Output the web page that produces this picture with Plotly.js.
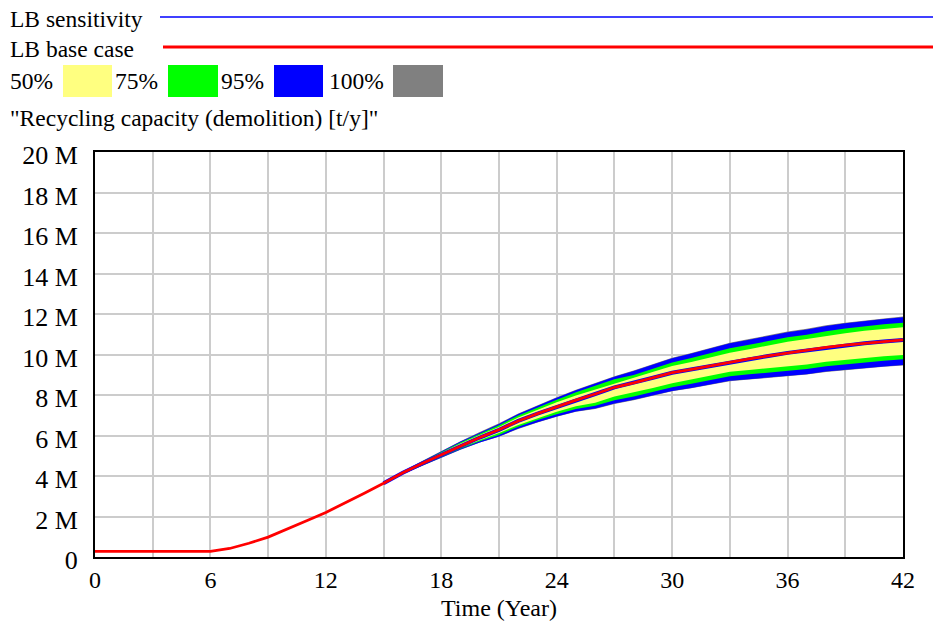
<!DOCTYPE html>
<html>
<head>
<meta charset="utf-8">
<script src="https://cdn.plot.ly/plotly-3.0.1.min.js"></script>
<style>html,body{margin:0;padding:0;background:#fff;}#chart{width:935px;height:625px;}</style>
</head>
<body>
<div id="chart"></div>
<script>
// ---- Data (values in millions of t/y) ----
const yearsBase = [0,1,2,3,4,5,6,7,8,9,10,11,12,13,14,15,16,17,18,19,20,21,22,23,24,25,26,27,28,29,30,31,32,33,34,35,36,37,38,39,40,41,42];
const baseCase = [0.28,0.28,0.28,0.28,0.28,0.28,0.28,0.42,0.68,0.98,1.37,1.79,2.2,2.66,3.15,3.64,4.16,4.62,5.06,5.5,5.9,6.28,6.72,7.08,7.42,7.75,8.05,8.38,8.6,8.85,9.1,9.27,9.45,9.63,9.78,9.93,10.08,10.2,10.35,10.46,10.56,10.64,10.72];

const yearsSens = [15,16,17,18,19,20,21,22,23,24,25,26,27,28,29,30,31,32,33,34,35,36,37,38,39,40,41,42];
const sensitivity = [3.64,4.16,4.62,5.06,5.5,5.9,6.28,6.72,7.08,7.42,7.75,8.05,8.38,8.6,8.85,9.1,9.27,9.45,9.63,9.78,9.93,10.08,10.2,10.35,10.46,10.56,10.64,10.72];

const p100Hi = [3.665,4.23,4.74,5.24,5.72,6.17,6.60,7.09,7.50,7.89,8.26,8.58,8.93,9.21,9.52,9.84,10.08,10.33,10.58,10.76,10.94,11.13,11.27,11.44,11.57,11.69,11.78,11.88];
const p100Lo = [3.615,4.09,4.50,4.91,5.30,5.65,5.94,6.32,6.64,6.92,7.17,7.31,7.56,7.74,7.96,8.18,8.33,8.51,8.68,8.76,8.84,8.92,9.01,9.14,9.23,9.32,9.39,9.46];
const p95Hi = [3.66,4.22,4.72,5.22,5.70,6.14,6.57,7.06,7.47,7.86,8.23,8.55,8.90,9.18,9.49,9.81,10.05,10.30,10.55,10.73,10.91,11.10,11.24,11.41,11.54,11.66,11.75,11.84];
const p95Lo = [3.62,4.10,4.51,4.92,5.31,5.66,5.95,6.34,6.66,6.94,7.19,7.33,7.58,7.76,7.98,8.20,8.35,8.53,8.70,8.78,8.86,8.94,9.03,9.16,9.25,9.34,9.41,9.48];
const p75Hi = [3.655,4.21,4.70,5.19,5.66,6.09,6.51,6.99,7.39,7.77,8.13,8.44,8.78,8.99,9.29,9.60,9.83,10.07,10.31,10.48,10.66,10.85,10.98,11.15,11.28,11.40,11.49,11.57];
const p75Lo = [3.625,4.12,4.53,4.95,5.35,5.71,6.03,6.43,6.76,7.05,7.31,7.47,7.74,7.93,8.16,8.38,8.55,8.74,8.93,9.02,9.10,9.19,9.29,9.42,9.52,9.61,9.69,9.76];
const p50Hi = [3.65,4.20,4.68,5.15,5.61,6.03,6.42,6.89,7.28,7.64,7.98,8.27,8.58,8.84,9.13,9.43,9.63,9.86,10.09,10.26,10.44,10.63,10.76,10.92,11.05,11.17,11.26,11.34];
const p50Lo = [3.63,4.13,4.55,4.98,5.39,5.76,6.12,6.52,6.86,7.17,7.44,7.62,7.92,8.12,8.35,8.58,8.77,8.96,9.15,9.24,9.32,9.40,9.51,9.64,9.74,9.83,9.91,9.98];

const xTickVals = [0,3,6,9,12,15,18,21,24,27,30,33,36,39,42];
const xTickText = ['0','','6','','12','','18','','24','','30','','36','','42'];
const yTickVals = [0,2,4,6,8,10,12,14,16,18,20];
const yTickText = ['0','2 M','4 M','6 M','8 M','10 M','12 M','14 M','16 M','18 M','20 M'];

const legendLines = ['LB sensitivity','LB base case'];
const bandLabels = ['50%','75%','95%','100%'];
const bandColors = ['#ffff80','#00ff00','#0000ff','#808080'];
const chartTitle = '"Recycling capacity (demolition) [t/y]"';

// ---- Traces ----
function band(lo, hi, color) {
  return [
    {x: yearsSens, y: lo, mode: 'lines', line: {width: 0, color: color}, hoverinfo: 'skip', showlegend: false},
    {x: yearsSens, y: hi, mode: 'lines', line: {width: 0, color: color}, fill: 'tonexty', fillcolor: color, hoverinfo: 'skip', showlegend: false}
  ];
}
const traces = [].concat(
  band(p100Lo, p100Hi, bandColors[3]),
  band(p95Lo, p95Hi, bandColors[2]),
  band(p75Lo, p75Hi, bandColors[1]),
  band(p50Lo, p50Hi, bandColors[0]),
  [
    {x: yearsSens, y: sensitivity, mode: 'lines', line: {color: '#0000ff', width: 4}, name: legendLines[0], showlegend: false},
    {x: yearsBase, y: baseCase, mode: 'lines', line: {color: '#ff0000', width: 2.8}, name: legendLines[1], showlegend: false}
  ]
);

// ---- Layout helpers (pixel -> paper) ----
const PL = 95, PW = 808, PB = 557, PH = 405;
const px = v => (v - PL) / PW;
const py = v => (PB - v) / PH;
const FONT = 'Liberation Serif';

const annotations = [
  {text: legendLines[0], x: px(8), y: py(19)},
  {text: legendLines[1], x: px(8), y: py(49)},
  {text: bandLabels[0], x: px(8), y: py(81)},
  {text: bandLabels[1], x: px(113), y: py(81)},
  {text: bandLabels[2], x: px(219), y: py(81)},
  {text: bandLabels[3], x: px(327), y: py(81)},
  {text: chartTitle, x: px(8), y: py(118)}
].map(a => Object.assign({xref: 'paper', yref: 'paper', xanchor: 'left', yanchor: 'middle', showarrow: false,
  font: {family: FONT, size: 23.5, color: '#000'}}, a));

const shapes = [
  {type: 'line', xref: 'paper', yref: 'paper', x0: px(160), x1: px(933), y0: py(17), y1: py(17), line: {color: '#0000ff', width: 1.6}},
  {type: 'line', xref: 'paper', yref: 'paper', x0: px(163), x1: px(933), y0: py(47), y1: py(47), line: {color: '#ff0000', width: 3}},
  {type: 'rect', xref: 'paper', yref: 'paper', x0: px(63), x1: px(112), y0: py(97), y1: py(65), fillcolor: bandColors[0], line: {width: 0}},
  {type: 'rect', xref: 'paper', yref: 'paper', x0: px(168), x1: px(218), y0: py(97), y1: py(65), fillcolor: bandColors[1], line: {width: 0}},
  {type: 'rect', xref: 'paper', yref: 'paper', x0: px(274), x1: px(323), y0: py(97), y1: py(65), fillcolor: bandColors[2], line: {width: 0}},
  {type: 'rect', xref: 'paper', yref: 'paper', x0: px(393), x1: px(443), y0: py(97), y1: py(65), fillcolor: bandColors[3], line: {width: 0}}
];

const layout = {
  width: 935, height: 625,
  margin: {l: PL, r: 935 - PL - PW, t: PB - PH, b: 625 - PB, pad: 0},
  paper_bgcolor: '#fff', plot_bgcolor: '#fff',
  showlegend: false,
  font: {family: FONT, size: 24, color: '#000'},
  xaxis: {
    range: [0, 42], tickmode: 'array', tickvals: xTickVals, ticktext: xTickText,
    showgrid: true, gridcolor: '#cccccc', gridwidth: 2, zeroline: false,
    showline: true, mirror: true, linecolor: '#000', linewidth: 2, ticks: '',
    tickfont: {family: FONT, size: 24, color: '#000'},
    title: {text: 'Time (Year)', font: {family: FONT, size: 24, color: '#000'}, standoff: 7}
  },
  yaxis: {
    range: [0, 20], tickmode: 'array', tickvals: yTickVals, ticktext: yTickText,
    showgrid: true, gridcolor: '#cccccc', gridwidth: 2, zeroline: false,
    showline: true, mirror: true, linecolor: '#000', linewidth: 2, ticks: '',
    ticklabelstandoff: 10, ticklabelshift: 3,
    tickfont: {family: FONT, size: 26, color: '#000'}
  },
  annotations: annotations,
  shapes: shapes
};

Plotly.newPlot('chart', traces, layout, {displayModeBar: false, staticPlot: true});
</script>
</body>
</html>
